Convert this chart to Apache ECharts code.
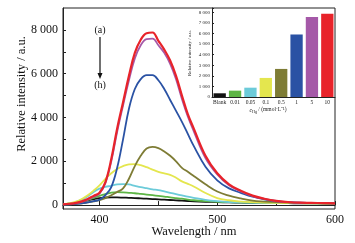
<!DOCTYPE html>
<html><head><meta charset="utf-8">
<script src="https://cdn.jsdelivr.net/npm/echarts@6/dist/echarts.min.js"></script>
<style>html,body{margin:0;padding:0;background:#fff}#c{width:355px;height:243px}</style>
</head><body><div id="c"></div>
<script>
const wavelengths = [369,375,380,385,390,395,400,405,410,415,420,425,430,435,440,445,450,455,460,465,470,475,480,490,500,510,520,530,540,550,560,570,580,590,600];
const curveA_red    = [30,60,100,170,280,420,560,1050,2100,3500,4700,5900,6950,7550,7850,7880,7500,7100,6600,5900,5000,4150,3500,2250,1450,950,650,430,290,190,140,110,100,90,80];
const curveB_purple = [30,55,90,150,250,380,520,1000,2000,3350,4550,5700,6700,7300,7580,7600,7300,6950,6450,5750,4850,4050,3380,2150,1400,900,620,410,280,185,140,110,100,90,80];
const curveC_blue   = [20,30,50,80,120,180,240,450,820,1700,3000,4400,5300,5750,5930,5930,5700,5300,4800,4300,3800,3250,2700,1750,1130,760,560,380,260,180,130,110,100,90,80];
const curveD_olive  = [20,30,50,80,120,170,230,320,450,600,760,1200,1780,2250,2580,2660,2600,2450,2250,2000,1700,1520,1330,950,620,430,300,200,160,130,110,100,90,85,80];
const curveE_yellow = [40,90,160,280,450,660,900,1200,1450,1650,1780,1860,1870,1820,1730,1620,1520,1450,1380,1250,1080,970,850,550,320,220,160,130,110,100,90,85,80,75,70];
const curveF_cyan   = [40,80,140,250,400,600,750,830,880,940,960,940,880,820,770,720,680,620,560,500,440,380,330,240,180,140,120,110,100,95,90,85,80,75,70];
const curveG_green  = [30,60,100,160,240,330,420,500,570,590,580,560,540,510,480,450,420,390,350,320,290,250,220,180,150,130,120,110,105,100,95,90,85,80,75];
const curveH_black  = [30,60,100,150,210,270,320,345,355,350,340,330,320,305,290,275,260,245,230,215,200,185,170,150,135,120,110,100,95,90,85,80,75,70,65];

const insetCategories = ['Blank','0.01','0.05','0.1','0.5','1','5','10'];
const insetValues = [350,600,880,1800,2650,5900,7550,7850];
const insetColors = ['#111111','#5db545','#6ccbd9','#e4e64e','#7e7c35','#2a52a4','#a559a8','#e8232a'];

const mainYLabels = [0,2000,4000,6000,8000];
const mainYTicks = [0,1000,2000,3000,4000,5000,6000,7000,8000];
const mainXLabels = [400,500,600];
const mainXTicks = [400,450,500,550,600];

const FONT = 'Liberation Serif';
function fmt(v){ if (v>=1000){ const t=Math.floor(v/1000); const r=String(v%1000).padStart(3,'0'); return t+' '+r;} return String(v); }

const curves = [
  {d:curveH_black,  c:'#111111', w:1.8},
  {d:curveG_green,  c:'#5db545', w:1.8},
  {d:curveF_cyan,   c:'#6ccbd9', w:1.8},
  {d:curveE_yellow, c:'#e4e64e', w:1.8},
  {d:curveD_olive,  c:'#7e7c35', w:1.8},
  {d:curveC_blue,   c:'#2a52a4', w:1.8},
  {d:curveB_purple, c:'#a559a8', w:1.8},
  {d:curveA_red,    c:'#e8232a', w:2.2}
];

const chart = echarts.init(document.getElementById('c'), null, {renderer:'canvas'});
const series = curves.map(cv => ({
  type:'line', xAxisIndex:0, yAxisIndex:0, smooth:0.4, showSymbol:false, symbol:'none',
  data: wavelengths.map((x,i)=>[x, cv.d[i]]),
  lineStyle:{color:cv.c, width:cv.w}, itemStyle:{color:cv.c}, silent:true, animation:false
}));
series.push({
  type:'bar', xAxisIndex:1, yAxisIndex:1, barCategoryGap:'20%', animation:false, silent:true,
  data: insetValues.map((v,i)=>({value:v, itemStyle:{color:insetColors[i]}}))
});

chart.setOption({
  backgroundColor:'#ffffff',
  animation:false,
  grid:[
    {left:63, top:8, right:20, bottom:34, show:true, borderColor:'#222', borderWidth:1, backgroundColor:'transparent'},
    {left:212, top:8, right:20, bottom:146, show:false}
  ],
  xAxis:[
    {type:'value', gridIndex:0, min:369, max:600,
     axisLine:{show:true, lineStyle:{color:'#222', width:1}},
     axisTick:{show:true, inside:true, length:4, customValues:mainXTicks, lineStyle:{color:'#222'}},
     axisLabel:{customValues:mainXLabels, fontFamily:FONT, fontSize:12, color:'#111', margin:5},
     splitLine:{show:false}},
    {type:'category', gridIndex:1, data:insetCategories,
     axisLine:{show:true, lineStyle:{color:'#222', width:1}},
     axisTick:{show:false},
     axisLabel:{fontFamily:FONT, fontSize:5.5, color:'#222', margin:3, interval:0}}
  ],
  yAxis:[
    {type:'value', gridIndex:0, min:-180, max:9000,
     axisLine:{show:true, lineStyle:{color:'#222', width:1}},
     axisTick:{show:true, inside:true, length:3, customValues:mainYTicks, lineStyle:{color:'#222'}},
     axisLabel:{customValues:mainYLabels, formatter:v=>fmt(v), fontFamily:FONT, fontSize:12, color:'#111', margin:5},
     splitLine:{show:false}},
    {type:'value', gridIndex:1, min:0, max:8400, interval:1000,
     axisLine:{show:true, lineStyle:{color:'#222', width:1}},
     axisTick:{show:true, inside:true, length:2, lineStyle:{color:'#222'}},
     axisLabel:{formatter:v=> v>8000 ? '' : fmt(v), fontFamily:FONT, fontSize:5, color:'#222', margin:2},
     splitLine:{show:false}}
  ],
  series: series,
  graphic:[
    {type:'text', left:null, x:22, y:94, rotation:Math.PI/2,
     style:{text:'Relative intensity / a.u.', fontFamily:FONT, fontSize:12.5, fill:'#111', align:'center', verticalAlign:'middle'}},
    {type:'text', x:194, y:232,
     style:{text:'Wavelength / nm', fontFamily:FONT, fontSize:12.5, fill:'#111', align:'center', verticalAlign:'middle'}},
    {type:'text', x:100, y:30,
     style:{text:'(a)', fontFamily:FONT, fontSize:10, fill:'#111', align:'center', verticalAlign:'middle'}},
    {type:'text', x:100, y:85,
     style:{text:'(h)', fontFamily:FONT, fontSize:10, fill:'#111', align:'center', verticalAlign:'middle'}},
    {type:'line', shape:{x1:100, y1:37, x2:100, y2:75}, style:{stroke:'#111', lineWidth:1.2}},
    {type:'polygon', shape:{points:[[97.5,73],[102.5,73],[100,79]]}, style:{fill:'#111'}},
    {type:'text', x:190, y:53, rotation:Math.PI/2,
     style:{text:'Relative intensity / a.u.', fontFamily:FONT, fontSize:5, fill:'#222', align:'center', verticalAlign:'middle'}},
    {type:'text', x:268, y:110,
     style:{text:'{i|c}{s|Hg} / (mmol·L⁻¹)', fontFamily:FONT, fontSize:5.5, fill:'#222', align:'center', verticalAlign:'middle',
       rich:{i:{fontFamily:FONT, fontStyle:'italic', fontSize:6, fill:'#222'}, s:{fontFamily:FONT, fontSize:4, fill:'#222', verticalAlign:'bottom', padding:[3,0,0,0]}}}}
  ]
});
</script></body></html>
